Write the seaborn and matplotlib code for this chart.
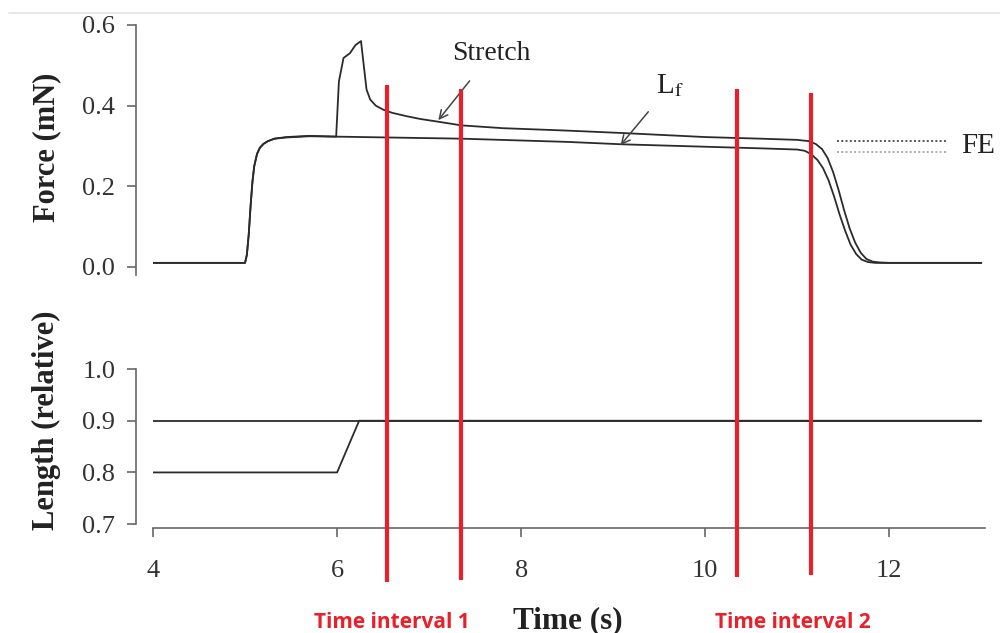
import numpy as np
import pandas as pd
import matplotlib
matplotlib.use("Agg")
import matplotlib.pyplot as plt
import seaborn as sns
from matplotlib.transforms import blended_transform_factory
from matplotlib.lines import Line2D

# ---------------- data ----------------
force_time_stretch = [4.0, 5.0, 5.02, 5.04, 5.06, 5.08, 5.1, 5.13, 5.16, 5.2, 5.25, 5.32,
                      5.45, 5.7, 5.99, 6.02, 6.07, 6.14, 6.2, 6.26, 6.29, 6.32, 6.36,
                      6.42, 6.5, 6.6, 6.75, 6.9, 7.1, 7.35, 7.8, 8.5, 9.1, 10.0, 10.6,
                      11.0, 11.12, 11.2, 11.27, 11.33, 11.39, 11.45, 11.51, 11.57, 11.63,
                      11.69, 11.75, 11.82, 11.9, 12.0, 13.0]
force_stretch = [0.01, 0.01, 0.03, 0.08, 0.15, 0.21, 0.25, 0.28, 0.295, 0.305, 0.312, 0.318,
                 0.322, 0.325, 0.323, 0.46, 0.518, 0.53, 0.55, 0.56, 0.5, 0.44, 0.415,
                 0.4, 0.39, 0.382, 0.374, 0.367, 0.36, 0.351, 0.344, 0.338, 0.332, 0.322,
                 0.318, 0.315, 0.312, 0.305, 0.292, 0.27, 0.235, 0.19, 0.14, 0.095, 0.06,
                 0.035, 0.02, 0.013, 0.011, 0.01, 0.01]

force_time_iso = [4.0, 5.0, 5.02, 5.04, 5.06, 5.08, 5.1, 5.13, 5.16, 5.2, 5.25, 5.32,
                  5.45, 5.7, 6.0, 7.35, 8.5, 9.1, 10.0, 10.6, 11.0, 11.08, 11.15, 11.22,
                  11.28, 11.34, 11.4, 11.46, 11.52, 11.58, 11.64, 11.7, 11.77, 11.85,
                  12.0, 13.0]
force_iso = [0.01, 0.01, 0.03, 0.08, 0.15, 0.21, 0.25, 0.28, 0.295, 0.305, 0.312, 0.318,
             0.321, 0.324, 0.323, 0.318, 0.31, 0.304, 0.298, 0.294, 0.291, 0.288, 0.28,
             0.265, 0.245, 0.215, 0.175, 0.13, 0.09, 0.055, 0.032, 0.018, 0.012, 0.01,
             0.01, 0.01]

length_time_stretch = [4.0, 6.0, 6.24, 13.0]
length_stretch = [0.8, 0.8, 0.9, 0.9]
length_time_iso = [4.0, 13.0]
length_iso = [0.9, 0.9]

fe_levels = [0.311, 0.286]
fe_span = [11.43, 12.64]

interval_times = [6.54, 7.35, 10.35, 11.15]
interval_labels = ["Time interval 1", "Time interval 2"]
interval_label_x = [6.60, 10.95]

xticks = [4, 6, 8, 10, 12]
force_ticks = [0.0, 0.2, 0.4, 0.6]
length_ticks = [0.7, 0.8, 0.9, 1.0]

# ---------------- style ----------------
sns.set_style("ticks")
plt.rcParams['font.family'] = ['Liberation Serif', 'DejaVu Serif']
plt.rcParams['mathtext.fontset'] = 'stix'

LINE = "#2b2b2b"
SPINE = "#666666"
RED = "#e8202a"

fig = plt.figure(figsize=(10, 6.33), dpi=100)
ax1 = fig.add_axes([0.153, 0.5656, 0.832, 0.395])
ax2 = fig.add_axes([0.153, 0.172, 0.832, 0.245])

df_fs = pd.DataFrame({"t": force_time_stretch, "f": force_stretch})
df_fi = pd.DataFrame({"t": force_time_iso, "f": force_iso})
df_ls = pd.DataFrame({"t": length_time_stretch, "l": length_stretch})
df_li = pd.DataFrame({"t": length_time_iso, "l": length_iso})

sns.lineplot(data=df_fi, x="t", y="f", ax=ax1, color=LINE, linewidth=1.3,
             estimator=None, sort=False)
sns.lineplot(data=df_fs, x="t", y="f", ax=ax1, color=LINE, linewidth=1.3,
             estimator=None, sort=False)
sns.lineplot(data=df_li, x="t", y="l", ax=ax2, color=LINE, linewidth=1.3,
             estimator=None, sort=False)
sns.lineplot(data=df_ls, x="t", y="l", ax=ax2, color=LINE, linewidth=1.3,
             estimator=None, sort=False)

for ax in (ax1, ax2):
    ax.set_xlim(4, 13.04)
    for s in ("top", "right"):
        ax.spines[s].set_visible(False)
    ax.spines["left"].set_position(("outward", 12.2))
    for s in ("left", "bottom"):
        ax.spines[s].set_color(SPINE)
        ax.spines[s].set_linewidth(1.2)
    ax.tick_params(colors=SPINE, labelcolor="#333333", length=6.5, width=1.2,
                   labelsize=19, pad=8.5)

ax1.set_ylim(-0.02, 0.6)
ax1.set_yticks(force_ticks)
ax1.set_yticklabels([f"{v:.1f}" for v in force_ticks])
ax1.spines["bottom"].set_visible(False)
ax1.tick_params(bottom=False, labelbottom=False)
ax1.set_xlabel("")
ax1.set_ylabel("Force (mN)", fontsize=22, fontweight="bold", color="#222222")
ax1.yaxis.set_label_coords(-0.128, 0.51)
ax1.yaxis.label.set_va("center")

ax2.set_ylim(0.7, 1.0)
ax2.set_yticks(length_ticks)
ax2.set_yticklabels([f"{v:.1f}" for v in length_ticks])
ax2.set_xticks(xticks)
ax2.set_xticklabels([str(v) for v in xticks])
ax2.spines["bottom"].set_position(("outward", 3))
ax2.tick_params(axis="x", pad=16)
ax2.set_ylabel("Length (relative)", fontsize=22, fontweight="bold", color="#222222")
ax2.yaxis.set_label_coords(-0.128, 0.67)
ax2.yaxis.label.set_va("center")
ax2.set_xlabel("Time (s)", fontsize=22.5, fontweight="bold", color="#222222")
ax2.xaxis.set_label_coords(0.498, -0.62)
ax2.xaxis.label.set_va("center")

# annotations
ax1.annotate("Stretch", xy=(7.10, 0.364), xytext=(7.68, 0.53),
             fontsize=20, color="#222222", ha="center", va="center",
             arrowprops=dict(arrowstyle="->", color="#444444", lw=1.1,
                             shrinkA=11, shrinkB=0, mutation_scale=15))
ax1.annotate(r"L$_\mathrm{f}$", xy=(9.08, 0.302), xytext=(9.62, 0.45),
             fontsize=21, color="#222222", ha="center", va="center",
             arrowprops=dict(arrowstyle="->", color="#444444", lw=1.1,
                             shrinkA=9, shrinkB=0, mutation_scale=15))
ax1.plot(fe_span, [fe_levels[0]] * 2, linestyle=(0, (1, 1.2)), color="#555555",
         linewidth=1.4, clip_on=False)
ax1.plot(fe_span, [fe_levels[1]] * 2, linestyle=(0, (1, 1.2)), color="#aaaaaa",
         linewidth=1.4, clip_on=False)
ax1.text(12.96, 0.30, "FE", fontsize=21, color="#222222", ha="center", va="center",
         clip_on=False)

# red interval markers spanning both panels
trans = blended_transform_factory(ax2.transData, fig.transFigure)
tops = [1 - 85 / 633, 1 - 89 / 633, 1 - 89 / 633, 1 - 93 / 633]
bottoms = [1 - 582 / 633, 1 - 580 / 633, 1 - 577 / 633, 1 - 575 / 633]
for t, y0, y1 in zip(interval_times, bottoms, tops):
    fig.add_artist(Line2D([t, t], [y0, y1], transform=trans, color=RED,
                          linewidth=3.0, solid_capstyle="butt"))
for x, lab in zip(interval_label_x, interval_labels):
    fig.text(x, 1 - 622 / 633, lab, transform=trans, color=RED, fontsize=15,
             fontweight="bold", family=["Open Sans", "DejaVu Sans"], ha="center",
             va="center")

# light screenshot border line at the top
fig.add_artist(Line2D([0.009, 1.0], [1 - 13 / 633, 1 - 13 / 633],
                      transform=fig.transFigure, color="#e4e4e4", linewidth=1.2))

fig.savefig("out.png", dpi=100)
